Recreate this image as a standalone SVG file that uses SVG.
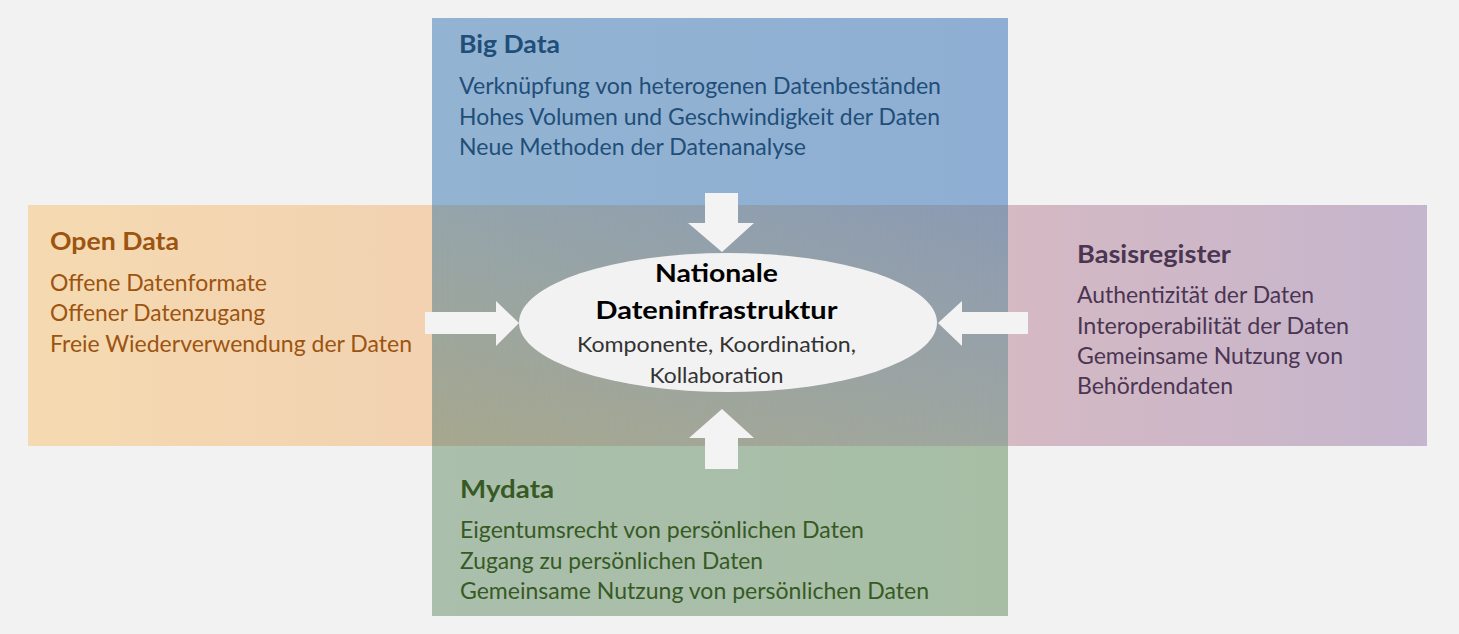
<svg xmlns="http://www.w3.org/2000/svg" width="1459" height="634" viewBox="0 0 1459 634">
<style>
  text { font-family: Lato, "Open Sans", "Liberation Sans", sans-serif; }
  .title { font-size: 25px; font-weight: bold; }
  .body { font-size: 22.5px; }
  .ctitle { font-size: 25.5px; font-weight: bold; fill: #000; }
  .cbody { font-size: 20.5px; fill: #333333; }
  .blue { fill: #1f4e79; }
  .orange { fill: #9c5410; }
  .purple { fill: #4a3553; }
  .green { fill: #375a25; }
  .arrow { fill: #f3f3f3; }
</style>
<defs>
  <linearGradient id="gOrange" x1="0" y1="0" x2="1" y2="0">
    <stop offset="0" stop-color="#f5dab1"/>
    <stop offset="1" stop-color="#f2d2b1"/>
  </linearGradient>
  <linearGradient id="gPurple" x1="0" y1="0" x2="1" y2="0">
    <stop offset="0" stop-color="#d5b9c3"/>
    <stop offset="1" stop-color="#c5b5cd"/>
  </linearGradient>
  <linearGradient id="gBlue" x1="0" y1="0" x2="1" y2="0">
    <stop offset="0" stop-color="#93b3d2"/>
    <stop offset="1" stop-color="#8eafd3"/>
  </linearGradient>
  <linearGradient id="gGreen" x1="0" y1="0" x2="1" y2="0">
    <stop offset="0" stop-color="#aabfac"/>
    <stop offset="1" stop-color="#a7bea5"/>
  </linearGradient>
  <linearGradient id="gCenterL" x1="0" y1="0" x2="0" y2="1">
    <stop offset="0" stop-color="#95a5ab"/>
    <stop offset="1" stop-color="#a7a88e"/>
  </linearGradient>
  <linearGradient id="gCenterR" x1="0" y1="0" x2="0" y2="1">
    <stop offset="0" stop-color="#8b9ab3"/>
    <stop offset="1" stop-color="#9ea6a0"/>
  </linearGradient>
  <linearGradient id="gMaskH" x1="0" y1="0" x2="1" y2="0">
    <stop offset="0" stop-color="#fff" stop-opacity="0"/>
    <stop offset="1" stop-color="#fff" stop-opacity="1"/>
  </linearGradient>
  <mask id="mRight" maskUnits="userSpaceOnUse" x="432" y="205" width="576" height="241">
    <rect x="432" y="205" width="576" height="241" fill="url(#gMaskH)"/>
  </mask>
</defs>
<rect x="0" y="0" width="1459" height="634" fill="#f2f2f2"/>

<g id="open-data">
  <rect x="28" y="205" width="404" height="241" fill="url(#gOrange)"/>
  <text class="title orange" x="50" y="250" textLength="129" lengthAdjust="spacingAndGlyphs">Open Data</text>
  <text class="body orange" x="50" y="291" textLength="217" lengthAdjust="spacingAndGlyphs">Offene Datenformate</text>
  <text class="body orange" x="50" y="321" textLength="215" lengthAdjust="spacingAndGlyphs">Offener Datenzugang</text>
  <text class="body orange" x="50" y="352" textLength="362" lengthAdjust="spacingAndGlyphs">Freie Wiederverwendung der Daten</text>
</g>

<g id="basisregister">
  <rect x="1008" y="205" width="419" height="241" fill="url(#gPurple)"/>
  <text class="title purple" x="1077" y="263" textLength="154" lengthAdjust="spacingAndGlyphs">Basisregister</text>
  <text class="body purple" x="1077" y="303" textLength="237" lengthAdjust="spacingAndGlyphs">Authentizität der Daten</text>
  <text class="body purple" x="1077" y="333.5" textLength="272" lengthAdjust="spacingAndGlyphs">Interoperabilität der Daten</text>
  <text class="body purple" x="1077" y="364" textLength="266" lengthAdjust="spacingAndGlyphs">Gemeinsame Nutzung von</text>
  <text class="body purple" x="1077" y="394" textLength="156" lengthAdjust="spacingAndGlyphs">Behördendaten</text>
</g>

<g id="big-data">
  <rect x="432" y="18" width="576" height="187" fill="url(#gBlue)"/>
  <text class="title blue" x="459" y="53" textLength="101" lengthAdjust="spacingAndGlyphs">Big Data</text>
  <text class="body blue" x="459" y="94" textLength="482" lengthAdjust="spacingAndGlyphs">Verknüpfung von heterogenen Datenbeständen</text>
  <text class="body blue" x="459" y="124.5" textLength="481" lengthAdjust="spacingAndGlyphs">Hohes Volumen und Geschwindigkeit der Daten</text>
  <text class="body blue" x="459" y="155" textLength="347" lengthAdjust="spacingAndGlyphs">Neue Methoden der Datenanalyse</text>
</g>

<g id="mydata">
  <rect x="432" y="446" width="576" height="170" fill="url(#gGreen)"/>
  <text class="title green" x="460" y="498" textLength="94" lengthAdjust="spacingAndGlyphs">Mydata</text>
  <text class="body green" x="460" y="538" textLength="404" lengthAdjust="spacingAndGlyphs">Eigentumsrecht von persönlichen Daten</text>
  <text class="body green" x="460" y="568.5" textLength="303" lengthAdjust="spacingAndGlyphs">Zugang zu persönlichen Daten</text>
  <text class="body green" x="460" y="599" textLength="469" lengthAdjust="spacingAndGlyphs">Gemeinsame Nutzung von persönlichen Daten</text>
</g>

<g id="overlap">
  <rect x="432" y="205" width="576" height="241" fill="url(#gCenterL)"/>
  <rect x="432" y="205" width="576" height="241" fill="url(#gCenterR)" mask="url(#mRight)"/>
</g>

<g id="connectors">
  <polygon class="arrow" points="705,193 738,193 738,223 754,223 722,252 688,223 705,223"/>
  <polygon class="arrow" points="722,409 754,438 738,438 738,469 705,469 705,438 689,438"/>
  <polygon class="arrow" points="425,312 496,312 496,301 519,323 496,346 496,334 425,334"/>
  <polygon class="arrow" points="938,323 962,301 962,312 1028,312 1028,334 962,334 962,346"/>
</g>

<g id="nationale-dateninfrastruktur">
  <ellipse cx="728" cy="322.5" rx="209" ry="69.5" fill="#f2f2f2"/>
  <text class="ctitle" x="716.5" y="282" text-anchor="middle" textLength="123" lengthAdjust="spacingAndGlyphs">Nationale</text>
  <text class="ctitle" x="716.5" y="319" text-anchor="middle" textLength="242" lengthAdjust="spacingAndGlyphs">Dateninfrastruktur</text>
  <text class="cbody" x="716.5" y="352" text-anchor="middle" textLength="279" lengthAdjust="spacingAndGlyphs">Komponente, Koordination,</text>
  <text class="cbody" x="716.5" y="383" text-anchor="middle" textLength="134" lengthAdjust="spacingAndGlyphs">Kollaboration</text>
</g>
</svg>
